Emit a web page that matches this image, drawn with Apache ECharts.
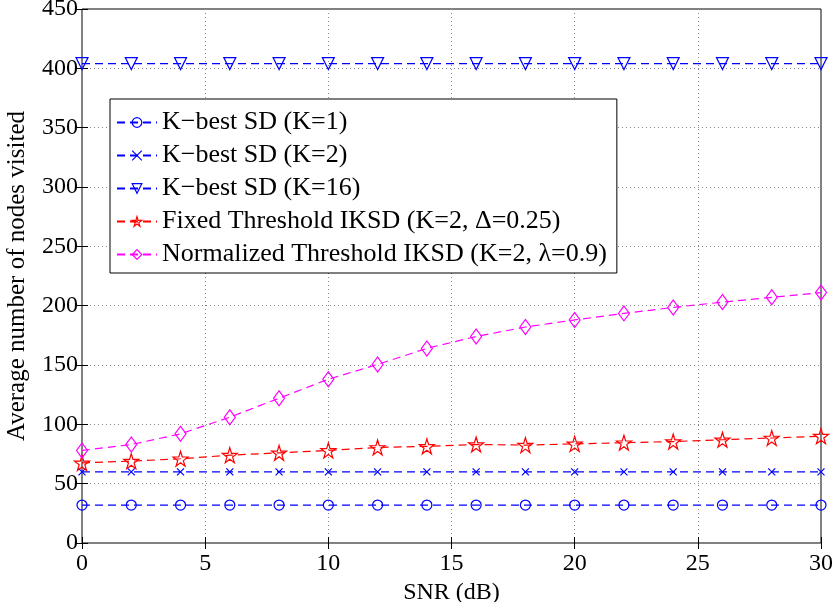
<!DOCTYPE html>
<html>
<head>
<meta charset="utf-8">
<script src="https://cdn.jsdelivr.net/npm/echarts@6/dist/echarts.min.js"></script>
<style>
  html, body { margin: 0; padding: 0; background: #fff; }
  #chart { width: 834px; height: 602px; }
</style>
</head>
<body>
<div id="chart"></div>
<script>
// SNR sweep (dB) and average visited-node counts per detector
const snr = [0, 2, 4, 6, 8, 10, 12, 14, 16, 18, 20, 22, 24, 26, 28, 30];
const kbest1 = [32, 32, 32, 32, 32, 32, 32, 32, 32, 32, 32, 32, 32, 32, 32, 32];
const kbest2 = [60, 60, 60, 60, 60, 60, 60, 60, 60, 60, 60, 60, 60, 60, 60, 60];
const kbest16 = [404, 404, 404, 404, 404, 404, 404, 404, 404, 404, 404, 404, 404, 404, 404, 404];
const fixedIksd = [67.5, 69, 71, 74, 76, 78, 80.5, 81.5, 83, 82.5, 83.5, 84.5, 85.5, 87, 88.5, 90];
const normIksd = [78, 83, 92, 106, 122, 138, 150.5, 164, 174, 182, 188, 193.5, 198.5, 203, 207, 211];

const xTicks = [0, 5, 10, 15, 20, 25, 30];
const yTicks = [0, 50, 100, 150, 200, 250, 300, 350, 400, 450];

const names = [
  'K\u2212best SD (K=1)',
  'K\u2212best SD (K=2)',
  'K\u2212best SD (K=16)',
  'Fixed Threshold IKSD (K=2, \u0394=0.25)',
  'Normalized Threshold IKSD (K=2, \u03bb=0.9)'
];

const serif = '"Liberation Serif", "Times New Roman", serif';
const pair = ys => snr.map((x, i) => [x, ys[i]]);

const starPath = 'path://M50,0L61,35L98,35L68,57L79,91L50,70L21,91L32,57L2,35L39,35Z';
const crossPath = 'path://M0,0L10,10M10,0L0,10';

function series(name, ys, color, symbol, size, extra) {
  return Object.assign({
    name: name,
    type: 'line',
    data: pair(ys),
    clip: false,
    symbol: symbol,
    symbolSize: size,
    showAllSymbol: true,
    lineStyle: { color: color, width: 1.2, type: [8, 5] },
    itemStyle: { color: 'none', borderColor: color, borderWidth: 1.2 },
    emphasis: { disabled: true },
    animation: false
  }, extra || {});
}

const chart = echarts.init(document.getElementById('chart'), null, { renderer: 'canvas' });

// mirror axes on top / right only carry inward ticks
const tickAxisCommon = {
  axisLine: { show: false },
  axisTick: { show: true, inside: true, length: 6, lineStyle: { color: '#000' } },
  axisLabel: { show: false },
  splitLine: { show: false }
};

chart.setOption({
  backgroundColor: '#fff',
  animation: false,
  grid: {
    left: 82, right: 13, top: 9, bottom: 59,
    containLabel: false,
    outerBoundsMode: 'none',
    show: true, borderColor: '#000', borderWidth: 1, backgroundColor: 'transparent'
  },
  legend: {
    orient: 'vertical',
    left: 110, top: 99,
    padding: [7, 10, 2, 6],
    itemWidth: 40,
    itemHeight: 12,
    itemGap: 0,
    backgroundColor: '#fff',
    borderColor: '#000',
    borderWidth: 1,
    itemStyle: { color: 'none', borderWidth: 1.2 },
    textStyle: { fontFamily: serif, fontSize: 26, color: '#000', lineHeight: 33 },
    data: names
  },
  xAxis: [{
    type: 'value',
    min: 0, max: 30, interval: 5,
    position: 'bottom',
    name: 'SNR (dB)',
    nameLocation: 'middle',
    nameGap: 32,
    nameTextStyle: { fontFamily: serif, fontSize: 24, color: '#000' },
    axisLine: { show: false },
    axisTick: { show: true, inside: true, length: 6, lineStyle: { color: '#000' } },
    axisLabel: {
      fontFamily: serif, fontSize: 24, color: '#000', margin: 9,
      formatter: v => xTicks.includes(v) ? String(v) : ''
    },
    splitLine: { show: true, lineStyle: { color: '#888', type: [1, 3], width: 1 } }
  }, Object.assign({
    type: 'value', min: 0, max: 30, interval: 5, position: 'top'
  }, tickAxisCommon)],
  yAxis: [{
    type: 'value',
    min: 0, max: 450, interval: 50,
    position: 'left',
    name: 'Average number of nodes visited',
    nameLocation: 'middle',
    nameGap: 52,
    nameTextStyle: { fontFamily: serif, fontSize: 25, color: '#000' },
    axisLine: { show: false },
    axisTick: { show: true, inside: true, length: 6, lineStyle: { color: '#000' } },
    axisLabel: {
      fontFamily: serif, fontSize: 24, color: '#000', margin: 4,
      formatter: v => yTicks.includes(v) ? String(v) : ''
    },
    splitLine: { show: true, lineStyle: { color: '#888', type: [1, 3], width: 1 } }
  }, Object.assign({
    type: 'value', min: 0, max: 450, interval: 50, position: 'right'
  }, tickAxisCommon)],
  series: [
    series(names[0], kbest1, '#0000ff', 'circle', 10),
    series(names[1], kbest2, '#0000ff', crossPath, 7),
    series(names[2], kbest16, '#0000ff', 'triangle', 12, { symbolRotate: 180 }),
    series(names[3], fixedIksd, '#ff0000', starPath, 15),
    series(names[4], normIksd, '#ff00ff', 'diamond', [11, 15])
  ]
});
</script>
</body>
</html>
